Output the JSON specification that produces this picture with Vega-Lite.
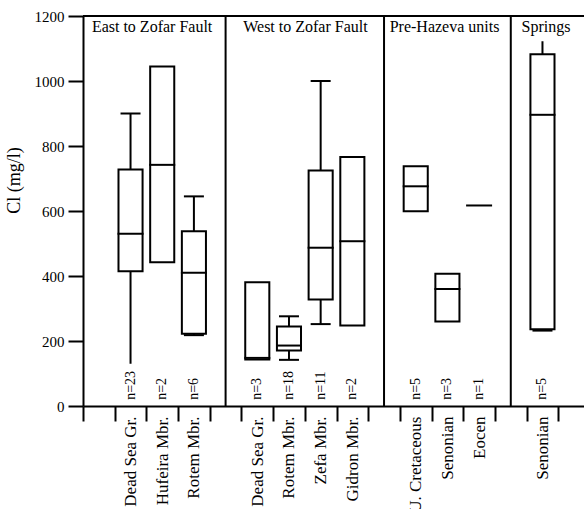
{
  "$schema": "https://vega.github.io/schema/vega-lite/v6.json",
  "width": 501,
  "height": 390,
  "autosize": "none",
  "padding": {"left": 83, "top": 16, "right": 0, "bottom": 103},
  "config": {
    "font": "Liberation Serif",
    "view": {"stroke": null},
    "axis": {"domainColor": "black", "domainWidth": 2, "tickColor": "black", "tickWidth": 2, "labelColor": "black", "titleColor": "black", "labelFont": "Liberation Serif", "titleFont": "Liberation Serif", "grid": false},
    "axisX": {"title": null, "tickBand": "extent", "tickSize": 15, "labelAngle": 270, "labelPadding": -5, "labelFontSize": 17, "labelExpr": "split(datum.value, '|')[1]", "labelLimit": 300}
  },
  "datasets": {
    "boxes": [
      {"key": "E1|Dead Sea Gr.", "n": 23, "lo": 130, "q1": 415, "med": 530, "q3": 728, "hi": 900, "capLo": null, "capHi": 900},
      {"key": "E2|Hufeira Mbr.", "n": 2, "lo": null, "q1": 442, "med": 742, "q3": 1045, "hi": null, "capLo": null, "capHi": null},
      {"key": "E3|Rotem Mbr.", "n": 6, "lo": 218, "q1": 222, "med": 410, "q3": 538, "hi": 645, "capLo": 218, "capHi": 645},
      {"key": "W1|Dead Sea Gr.", "n": 3, "lo": null, "q1": 143, "med": 148, "q3": 381, "hi": null, "capLo": null, "capHi": null},
      {"key": "W2|Rotem Mbr.", "n": 18, "lo": 142, "q1": 171, "med": 186, "q3": 245, "hi": 276, "capLo": 142, "capHi": 276},
      {"key": "W3|Zefa Mbr.", "n": 11, "lo": 252, "q1": 328, "med": 487, "q3": 725, "hi": 1000, "capLo": 252, "capHi": 1000},
      {"key": "W4|Gidron Mbr.", "n": 2, "lo": null, "q1": 248, "med": 507, "q3": 766, "hi": null, "capLo": null, "capHi": null},
      {"key": "P1|U. Cretaceous", "n": 5, "lo": null, "q1": 599, "med": 676, "q3": 738, "hi": null, "capLo": null, "capHi": null},
      {"key": "P2|Senonian", "n": 3, "lo": null, "q1": 260, "med": 360, "q3": 407, "hi": null, "capLo": null, "capHi": null},
      {"key": "P3|Eocen", "n": 1, "lo": null, "q1": null, "med": 617, "q3": null, "hi": null, "capLo": null, "capHi": null},
      {"key": "S1|Senonian", "n": 5, "lo": 232, "q1": 236, "med": 896, "q3": 1082, "hi": 1122, "capLo": 232, "capHi": null}
    ],
    "dividers": [{"key": "s4|"}, {"key": "s9|"}, {"key": "s13|"}]
  },
  "layer": [
    {
      "data": {"name": "boxes"},
      "mark": {"type": "rule", "color": "black", "strokeWidth": 2},
      "encoding": {
        "x": {"field": "key", "type": "nominal", "title": null,
          "scale": {"type": "band", "domain": ["s0|", "E1|Dead Sea Gr.", "E2|Hufeira Mbr.", "E3|Rotem Mbr.", "s4|", "W1|Dead Sea Gr.", "W2|Rotem Mbr.", "W3|Zefa Mbr.", "W4|Gidron Mbr.", "s9|", "P1|U. Cretaceous", "P2|Senonian", "P3|Eocen", "s13|", "S1|Senonian", "s15|"], "range": [0, 507], "paddingInner": 0, "paddingOuter": 0}},
        "y": {"field": "lo", "type": "quantitative",
          "scale": {"domain": [0, 1200], "nice": false, "zero": true},
          "axis": {"title": "Cl (mg/l)", "titleFontSize": 18, "titleFontWeight": "normal", "titleX": -60, "titleY": 164, "titleAngle": 270, "titleAlign": "center", "titleBaseline": "bottom",
            "values": [0, 100, 200, 300, 400, 500, 600, 700, 800, 900, 1000, 1100, 1200], "format": "d",
            "labelExpr": "datum.value % 200 == 0 ? datum.label : ''", "tickSize": 15, "labelPadding": 4, "labelFontSize": 15}
        },
        "y2": {"field": "hi"}
      }
    },
    {
      "data": {"name": "boxes"},
      "mark": {"type": "bar", "fill": "white", "stroke": "black", "strokeWidth": 2, "width": {"band": 0.76}},
      "encoding": {
        "x": {"field": "key", "type": "nominal", "title": null,
          "scale": {"type": "band", "domain": ["s0|", "E1|Dead Sea Gr.", "E2|Hufeira Mbr.", "E3|Rotem Mbr.", "s4|", "W1|Dead Sea Gr.", "W2|Rotem Mbr.", "W3|Zefa Mbr.", "W4|Gidron Mbr.", "s9|", "P1|U. Cretaceous", "P2|Senonian", "P3|Eocen", "s13|", "S1|Senonian", "s15|"], "range": [0, 507], "paddingInner": 0, "paddingOuter": 0}},
        "y": {"field": "q1", "type": "quantitative", "title": "Cl (mg/l)"},
        "y2": {"field": "q3"}
      }
    },
    {
      "data": {"name": "boxes"},
      "mark": {"type": "tick", "color": "black", "size": 26, "thickness": 2, "orient": "horizontal", "opacity": 1},
      "encoding": {
        "x": {"field": "key", "type": "nominal", "title": null,
          "scale": {"type": "band", "domain": ["s0|", "E1|Dead Sea Gr.", "E2|Hufeira Mbr.", "E3|Rotem Mbr.", "s4|", "W1|Dead Sea Gr.", "W2|Rotem Mbr.", "W3|Zefa Mbr.", "W4|Gidron Mbr.", "s9|", "P1|U. Cretaceous", "P2|Senonian", "P3|Eocen", "s13|", "S1|Senonian", "s15|"], "range": [0, 507], "paddingInner": 0, "paddingOuter": 0}},
        "y": {"field": "med", "type": "quantitative", "title": "Cl (mg/l)"}
      }
    },
    {
      "data": {"name": "boxes"},
      "mark": {"type": "tick", "color": "black", "size": 20, "thickness": 2, "orient": "horizontal", "opacity": 1},
      "encoding": {
        "x": {"field": "key", "type": "nominal", "title": null,
          "scale": {"type": "band", "domain": ["s0|", "E1|Dead Sea Gr.", "E2|Hufeira Mbr.", "E3|Rotem Mbr.", "s4|", "W1|Dead Sea Gr.", "W2|Rotem Mbr.", "W3|Zefa Mbr.", "W4|Gidron Mbr.", "s9|", "P1|U. Cretaceous", "P2|Senonian", "P3|Eocen", "s13|", "S1|Senonian", "s15|"], "range": [0, 507], "paddingInner": 0, "paddingOuter": 0}},
        "y": {"field": "capHi", "type": "quantitative", "title": "Cl (mg/l)"}
      }
    },
    {
      "data": {"name": "boxes"},
      "mark": {"type": "tick", "color": "black", "size": 20, "thickness": 2, "orient": "horizontal", "opacity": 1},
      "encoding": {
        "x": {"field": "key", "type": "nominal", "title": null,
          "scale": {"type": "band", "domain": ["s0|", "E1|Dead Sea Gr.", "E2|Hufeira Mbr.", "E3|Rotem Mbr.", "s4|", "W1|Dead Sea Gr.", "W2|Rotem Mbr.", "W3|Zefa Mbr.", "W4|Gidron Mbr.", "s9|", "P1|U. Cretaceous", "P2|Senonian", "P3|Eocen", "s13|", "S1|Senonian", "s15|"], "range": [0, 507], "paddingInner": 0, "paddingOuter": 0}},
        "y": {"field": "capLo", "type": "quantitative", "title": "Cl (mg/l)"}
      }
    },
    {
      "data": {"name": "boxes"},
      "transform": [{"calculate": "'n=' + datum.n", "as": "nlabel"}],
      "mark": {"type": "text", "angle": 270, "align": "left", "baseline": "middle", "fontSize": 14, "color": "black"},
      "encoding": {
        "x": {"field": "key", "type": "nominal", "title": null,
          "scale": {"type": "band", "domain": ["s0|", "E1|Dead Sea Gr.", "E2|Hufeira Mbr.", "E3|Rotem Mbr.", "s4|", "W1|Dead Sea Gr.", "W2|Rotem Mbr.", "W3|Zefa Mbr.", "W4|Gidron Mbr.", "s9|", "P1|U. Cretaceous", "P2|Senonian", "P3|Eocen", "s13|", "S1|Senonian", "s15|"], "range": [0, 507], "paddingInner": 0, "paddingOuter": 0}},
        "y": {"datum": 19, "type": "quantitative", "title": "Cl (mg/l)"},
        "text": {"field": "nlabel"}
      }
    },
    {
      "data": {"name": "dividers"},
      "mark": {"type": "rule", "color": "black", "strokeWidth": 2},
      "encoding": {
        "x": {"field": "key", "type": "nominal", "title": null,
          "scale": {"type": "band", "domain": ["s0|", "E1|Dead Sea Gr.", "E2|Hufeira Mbr.", "E3|Rotem Mbr.", "s4|", "W1|Dead Sea Gr.", "W2|Rotem Mbr.", "W3|Zefa Mbr.", "W4|Gidron Mbr.", "s9|", "P1|U. Cretaceous", "P2|Senonian", "P3|Eocen", "s13|", "S1|Senonian", "s15|"], "range": [0, 507], "paddingInner": 0, "paddingOuter": 0}}
      }
    },
    {
      "data": {"values": [{}]},
      "mark": {"type": "rule", "color": "black", "strokeWidth": 2},
      "encoding": {"y": {"datum": 1200, "type": "quantitative", "title": "Cl (mg/l)"}}
    },
    {
      "data": {"values": [{"header": "East to Zofar Fault"}]},
      "mark": {"type": "text", "align": "center", "baseline": "alphabetic", "fontSize": 16, "color": "black"},
      "encoding": {
        "x": {"datum": "E2|Hufeira Mbr.", "type": "nominal", "bandPosition": 0.18, "title": null,
          "scale": {"type": "band", "domain": ["s0|", "E1|Dead Sea Gr.", "E2|Hufeira Mbr.", "E3|Rotem Mbr.", "s4|", "W1|Dead Sea Gr.", "W2|Rotem Mbr.", "W3|Zefa Mbr.", "W4|Gidron Mbr.", "s9|", "P1|U. Cretaceous", "P2|Senonian", "P3|Eocen", "s13|", "S1|Senonian", "s15|"], "range": [0, 507], "paddingInner": 0, "paddingOuter": 0}},
        "y": {"datum": 1150, "type": "quantitative", "title": "Cl (mg/l)"},
        "text": {"field": "header"}
      }
    },
    {
      "data": {"values": [{"header": "West to Zofar Fault"}]},
      "mark": {"type": "text", "align": "center", "baseline": "alphabetic", "fontSize": 16, "color": "black"},
      "encoding": {
        "x": {"datum": "W3|Zefa Mbr.", "type": "nominal", "bandPosition": 0.02, "title": null,
          "scale": {"type": "band", "domain": ["s0|", "E1|Dead Sea Gr.", "E2|Hufeira Mbr.", "E3|Rotem Mbr.", "s4|", "W1|Dead Sea Gr.", "W2|Rotem Mbr.", "W3|Zefa Mbr.", "W4|Gidron Mbr.", "s9|", "P1|U. Cretaceous", "P2|Senonian", "P3|Eocen", "s13|", "S1|Senonian", "s15|"], "range": [0, 507], "paddingInner": 0, "paddingOuter": 0}},
        "y": {"datum": 1150, "type": "quantitative", "title": "Cl (mg/l)"},
        "text": {"field": "header"}
      }
    },
    {
      "data": {"values": [{"header": "Pre-Hazeva units"}]},
      "mark": {"type": "text", "align": "center", "baseline": "alphabetic", "fontSize": 16, "color": "black"},
      "encoding": {
        "x": {"datum": "P2|Senonian", "type": "nominal", "bandPosition": 0.41, "title": null,
          "scale": {"type": "band", "domain": ["s0|", "E1|Dead Sea Gr.", "E2|Hufeira Mbr.", "E3|Rotem Mbr.", "s4|", "W1|Dead Sea Gr.", "W2|Rotem Mbr.", "W3|Zefa Mbr.", "W4|Gidron Mbr.", "s9|", "P1|U. Cretaceous", "P2|Senonian", "P3|Eocen", "s13|", "S1|Senonian", "s15|"], "range": [0, 507], "paddingInner": 0, "paddingOuter": 0}},
        "y": {"datum": 1150, "type": "quantitative", "title": "Cl (mg/l)"},
        "text": {"field": "header"}
      }
    },
    {
      "data": {"values": [{"header": "Springs"}]},
      "mark": {"type": "text", "align": "center", "baseline": "alphabetic", "fontSize": 16, "color": "black"},
      "encoding": {
        "x": {"datum": "S1|Senonian", "type": "nominal", "bandPosition": 0.61, "title": null,
          "scale": {"type": "band", "domain": ["s0|", "E1|Dead Sea Gr.", "E2|Hufeira Mbr.", "E3|Rotem Mbr.", "s4|", "W1|Dead Sea Gr.", "W2|Rotem Mbr.", "W3|Zefa Mbr.", "W4|Gidron Mbr.", "s9|", "P1|U. Cretaceous", "P2|Senonian", "P3|Eocen", "s13|", "S1|Senonian", "s15|"], "range": [0, 507], "paddingInner": 0, "paddingOuter": 0}},
        "y": {"datum": 1150, "type": "quantitative", "title": "Cl (mg/l)"},
        "text": {"field": "header"}
      }
    }
  ]
}
